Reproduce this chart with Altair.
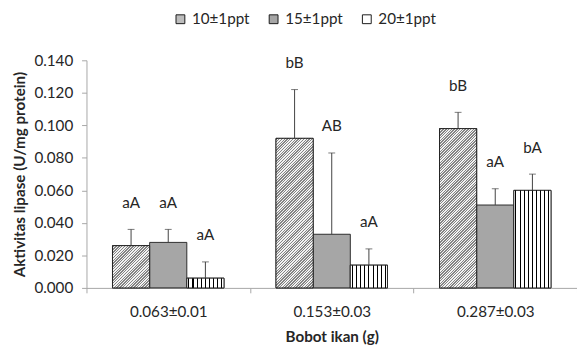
import math
import altair as alt
import pandas as pd

groups = ["0.063±0.01", "0.153±0.03", "0.287±0.03"]
series = ["10±1ppt", "15±1ppt", "20±1ppt"]
means = {
    "10±1ppt": [0.026, 0.092, 0.098],
    "15±1ppt": [0.028, 0.033, 0.051],
    "20±1ppt": [0.006, 0.014, 0.060],
}
errs = {
    "10±1ppt": [0.010, 0.030, 0.010],
    "15±1ppt": [0.008, 0.050, 0.010],
    "20±1ppt": [0.010, 0.010, 0.010],
}
letters = {
    "10±1ppt": ["aA", "bB", "bB"],
    "15±1ppt": ["aA", "AB", "aA"],
    "20±1ppt": ["aA", "aA", "bA"],
}
y_ticks = [0.0, 0.02, 0.04, 0.06, 0.08, 0.10, 0.12, 0.14]

rows = []
for s in series:
    for i, g in enumerate(groups):
        rows.append({"group": g, "series": s, "mean": means[s][i],
                     "hi": means[s][i] + errs[s][i], "label": letters[s][i]})
df = pd.DataFrame(rows)

W, H = 500, 232
YMAX = 0.14
PO = 0.70
BAR_W = (W / 3) / (3 + 2 * PO)
FONT = "Lato"
FS = 15.5
TXT = "#262626"

x_enc = alt.X("group:N", sort=groups,
              scale=alt.Scale(domain=groups, paddingInner=0, paddingOuter=0),
              axis=alt.Axis(title="Bobot ikan (g)", tickBand="extent", labelAngle=0,
                            labelPadding=12, titlePadding=10))
xo_enc = alt.XOffset("series:N", sort=series,
                     scale=alt.Scale(domain=series, paddingInner=0, paddingOuter=PO))
y_axis = alt.Axis(title="Aktivitas lipase (U/mg protein)", values=y_ticks,
                  format=".3f", grid=False, labelPadding=9, titlePadding=7,
                  labelOverlap=False)
y_scale = alt.Scale(domain=[0, YMAX], nice=False)


def y_of(field):
    return alt.Y(field, scale=y_scale, axis=y_axis)


base = alt.Chart(df)

bars = base.mark_bar(stroke="#1a1a1a", strokeWidth=0.9).encode(
    x=x_enc, xOffset=xo_enc, y=y_of("mean:Q"),
    color=alt.Color("series:N", sort=series,
                    scale=alt.Scale(domain=series, range=["#bdbdbd", "#a6a6a6", "#ffffff"]),
                    legend=alt.Legend(title=None)),
)


def diag_gradient(h_px, w_px=BAR_W, hperiod=1.6, line_frac=0.5):
    period = hperiod / math.sqrt(2)
    k = (w_px + h_px) / (w_px ** 2 + h_px ** 2)
    n = max(1, int(round((w_px + h_px) / (math.sqrt(2) * period))))
    stops = []
    for j in range(n):
        a = j / n
        b = (j + line_frac) / n
        c = (j + 1) / n
        stops += [alt.GradientStop(color="#858585", offset=a),
                  alt.GradientStop(color="#858585", offset=b),
                  alt.GradientStop(color="#f2f2f2", offset=b),
                  alt.GradientStop(color="#f2f2f2", offset=c)]
    return alt.LinearGradient(gradient="linear", stops=stops,
                              x1=0, y1=0, x2=k * w_px, y2=k * h_px)


def vert_gradient(n=9, line_frac=0.028):
    stops = [alt.GradientStop(color="#ffffff", offset=0)]
    for j in range(n):
        c = (j + 0.5) / n
        a = c - line_frac / 2
        b = c + line_frac / 2
        stops += [alt.GradientStop(color="#ffffff", offset=a),
                  alt.GradientStop(color="#000000", offset=a),
                  alt.GradientStop(color="#000000", offset=b),
                  alt.GradientStop(color="#ffffff", offset=b)]
    stops.append(alt.GradientStop(color="#ffffff", offset=1))
    return alt.LinearGradient(gradient="linear", stops=stops, x1=0, y1=0, x2=1, y2=0)


layers = [bars]
for i, g in enumerate(groups):
    h_px = means["10±1ppt"][i] * H / YMAX
    layers.append(
        base.transform_filter((alt.datum.series == "10±1ppt") & (alt.datum.group == g))
        .mark_bar(fill=diag_gradient(h_px), stroke="#1a1a1a", strokeWidth=0.9)
        .encode(x=x_enc, xOffset=xo_enc, y=y_of("mean:Q"))
    )
layers.append(
    base.transform_filter(alt.datum.series == "20±1ppt")
    .mark_bar(fill=vert_gradient(), stroke="#1a1a1a", strokeWidth=0.9)
    .encode(x=x_enc, xOffset=xo_enc, y=y_of("mean:Q"))
)

err = base.mark_rule(color="#404040", strokeWidth=1).encode(
    x=x_enc, xOffset=xo_enc, y=y_of("mean:Q"), y2="hi:Q")
cap = base.mark_tick(color="#404040", thickness=1, size=7).encode(
    x=x_enc, xOffset=xo_enc, y=y_of("hi:Q"))
txt = base.mark_text(dy=-27, fontSize=FS, font=FONT, color=TXT).encode(
    x=x_enc, xOffset=xo_enc, y=y_of("hi:Q"), text="label:N")
layers += [err, cap, txt]

chart = alt.layer(*layers).properties(
    width=W, height=H,
    autosize=alt.AutoSizeParams(type="none"),
    padding={"left": 80, "top": 50, "right": 0, "bottom": 62},
).configure_view(stroke=None).configure_axis(
    domainColor="#a6a6a6", tickColor="#a6a6a6", tickSize=5,
    labelFont=FONT, labelFontSize=FS, labelColor=TXT,
    titleFont=FONT, titleFontSize=FS, titleFontWeight="bold", titleColor=TXT,
).configure_legend(
    orient="none", legendX=88, legendY=-50, direction="horizontal",
    symbolType="square", symbolSize=81, symbolStrokeColor="#1a1a1a", symbolStrokeWidth=1,
    labelFont=FONT, labelFontSize=FS, labelColor=TXT, labelOffset=4, columnPadding=16,
)

chart.save("out.html", embed_options={"renderer": "svg", "actions": False})
